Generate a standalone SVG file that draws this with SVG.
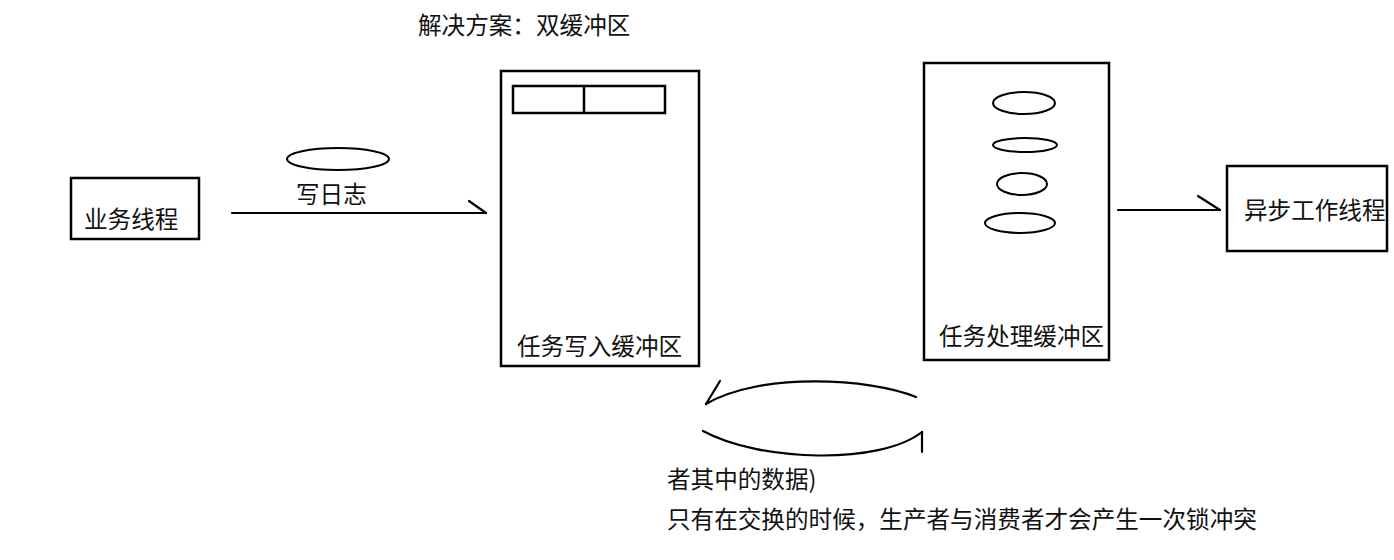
<svg xmlns="http://www.w3.org/2000/svg" width="1394" height="560" viewBox="0 0 1394 560">
<style>
.box{fill:none;stroke:#000;stroke-width:2.5}
.ln{fill:none;stroke:#000;stroke-width:2.2;stroke-linecap:round}
.el{fill:none;stroke:#000;stroke-width:2}
text{font-family:"Noto Sans CJK SC","Noto Sans",sans-serif;font-size:23.6px;fill:#111}
</style>
<rect width="1394" height="560" fill="#fff"/>
<text x="418" y="34">解决方案：双缓冲区</text>
<g id="biz-thread">
<rect class="box" x="71" y="178" width="128" height="61"/>
<text x="84" y="228">业务线程</text>
</g>
<g id="write-buffer">
<rect class="box" x="501" y="71" width="198" height="295"/>
<rect class="box" x="513" y="86" width="152" height="27"/>
<line class="box" x1="584" y1="86" x2="584" y2="113"/>
<text x="517" y="355">任务写入缓冲区</text>
</g>
<g id="process-buffer">
<rect class="box" x="924" y="63" width="185" height="297"/>
<ellipse class="el" cx="1024" cy="103" rx="31" ry="11"/>
<ellipse class="el" cx="1025" cy="145" rx="32" ry="7"/>
<ellipse class="el" cx="1022" cy="184" rx="25" ry="11"/>
<ellipse class="el" cx="1020" cy="223" rx="35" ry="10"/>
<text x="939" y="345">任务处理缓冲区</text>
</g>
<g id="async-thread">
<rect class="box" x="1227" y="166" width="160" height="85"/>
<text x="1244" y="219">异步工作线程</text>
</g>
<g id="log-item">
<ellipse class="el" cx="338" cy="159" rx="51" ry="11"/>
</g>
<g id="connectors">
<line class="ln" x1="232" y1="213" x2="486" y2="213"/>
<line class="ln" x1="469" y1="201" x2="486" y2="213"/>
<text x="296" y="203">写日志</text>
<line class="ln" x1="1118" y1="210" x2="1220" y2="210"/>
<line class="ln" x1="1198" y1="196" x2="1220" y2="210"/>
<path class="ln" d="M916,397 C870,378 760,372 706,404"/>
<line class="ln" x1="706" y1="404" x2="720" y2="381"/>
<path class="ln" d="M703,431 C760,462 880,465 922,432"/>
<line class="ln" x1="922" y1="432" x2="922" y2="452"/>
</g>
<text x="667" y="488">者其中的数据)</text>
<text x="667" y="528">只有在交换的时候，生产者与消费者才会产生一次锁冲突</text>
</svg>
